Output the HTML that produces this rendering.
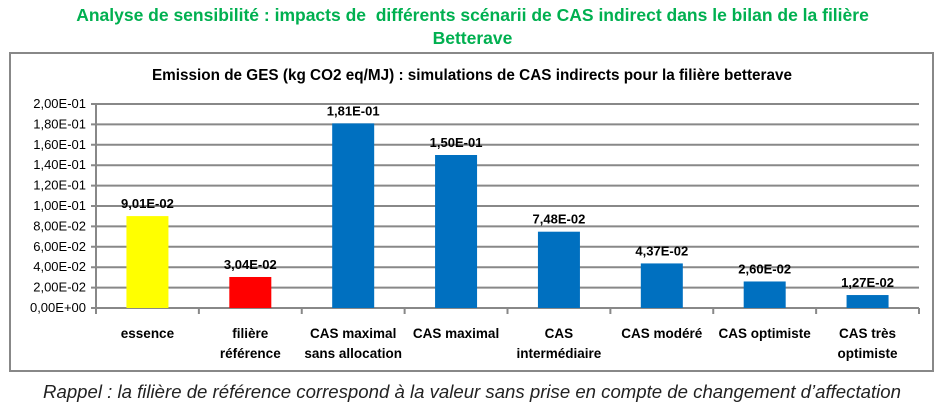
<!DOCTYPE html>
<html><head><meta charset="utf-8"><style>
body{margin:0;width:945px;height:405px;background:#fff;overflow:hidden;font-family:"Liberation Sans",sans-serif}
.t{position:absolute;left:0;width:945px;text-align:center;color:#00b050;font-weight:bold;font-size:17.5px}
</style></head><body>
<div class="t" style="top:5px">Analyse de sensibilité : impacts de&nbsp; différents scénarii de CAS indirect dans le bilan de la filière</div>
<div class="t" style="top:28px">Betterave</div>
<svg width="945" height="405" style="position:absolute;left:0;top:0">
<rect x="10" y="53" width="923" height="318" fill="none" stroke="#888" stroke-width="2"/>
<text x="472" y="80" text-anchor="middle" font-size="15.3" font-weight="bold" fill="#000">Emission de GES (kg CO2 eq/MJ) : simulations de CAS indirects pour la filière betterave</text>
<g id="grid"></g><g id="bars"></g><g id="axes"></g>
<text x="472" y="398" text-anchor="middle" font-size="18.6" font-style="italic" fill="#222">Rappel : la filière de référence correspond à la valeur sans prise en compte de changement d’affectation</text>
</svg>
<script>
const categories=[["essence"],["filière","référence"],["CAS maximal","sans allocation"],["CAS maximal"],["CAS","intermédiaire"],["CAS modéré"],["CAS optimiste"],["CAS très","optimiste"]];
const values=[0.0901,0.0304,0.181,0.150,0.0748,0.0437,0.0260,0.0127];
const labels=["9,01E-02","3,04E-02","1,81E-01","1,50E-01","7,48E-02","4,37E-02","2,60E-02","1,27E-02"];
const colors=["#ffff00","#ff0000","#0070c0","#0070c0","#0070c0","#0070c0","#0070c0","#0070c0"];
const ticks=[0,0.02,0.04,0.06,0.08,0.1,0.12,0.14,0.16,0.18,0.2];
const tickLabels=["0,00E+00","2,00E-02","4,00E-02","6,00E-02","8,00E-02","1,00E-01","1,20E-01","1,40E-01","1,60E-01","1,80E-01","2,00E-01"];
const X0=96,X1=919,Y0=308,Y1=104,NS="http://www.w3.org/2000/svg";
const y=v=>Y0-(v/0.2)*(Y0-Y1);
const bw=(X1-X0)/categories.length;
const xc=i=>X0+bw*(i+0.5);
function mk(t,a,p,txt){const e=document.createElementNS(NS,t);for(const k in a)e.setAttribute(k,a[k]);if(txt!=null)e.textContent=txt;document.getElementById(p).appendChild(e);return e;}
ticks.forEach((v,i)=>{
 const l=mk('line',{x1:X0-5,x2:X1,y1:y(v),y2:y(v),stroke:'#888','stroke-width':2},'grid');
 
 
 const t=mk('text',{x:X0-10,y:y(v)+4,'text-anchor':'end','font-size':13,fill:'#000'},'axes',tickLabels[i]);
 
 
});
mk('line',{x1:X0,x2:X0,y1:Y1,y2:Y0,stroke:'#888','stroke-width':2},'axes');
for(let i=0;i<=categories.length;i++){mk('line',{x1:X0+bw*i,x2:X0+bw*i,y1:Y0,y2:Y0+6,stroke:'#888','stroke-width':2},'axes');}
values.forEach((v,i)=>{
 const r=mk('rect',{x:xc(i)-21,y:y(v),width:42,height:Y0-y(v),fill:colors[i]},'bars');
 
 
 const t=mk('text',{x:xc(i),y:y(v)-8,'text-anchor':'middle','font-size':13,'font-weight':'bold',fill:'#000'},'bars',labels[i]);
 
 
 categories[i].forEach((s,j)=>{
  const c=mk('text',{x:xc(i),y:338+j*20,'text-anchor':'middle','font-size':13.5,'font-weight':'bold',fill:'#000'},'axes',s);
  
  
 });
});
</script>
</body></html>
